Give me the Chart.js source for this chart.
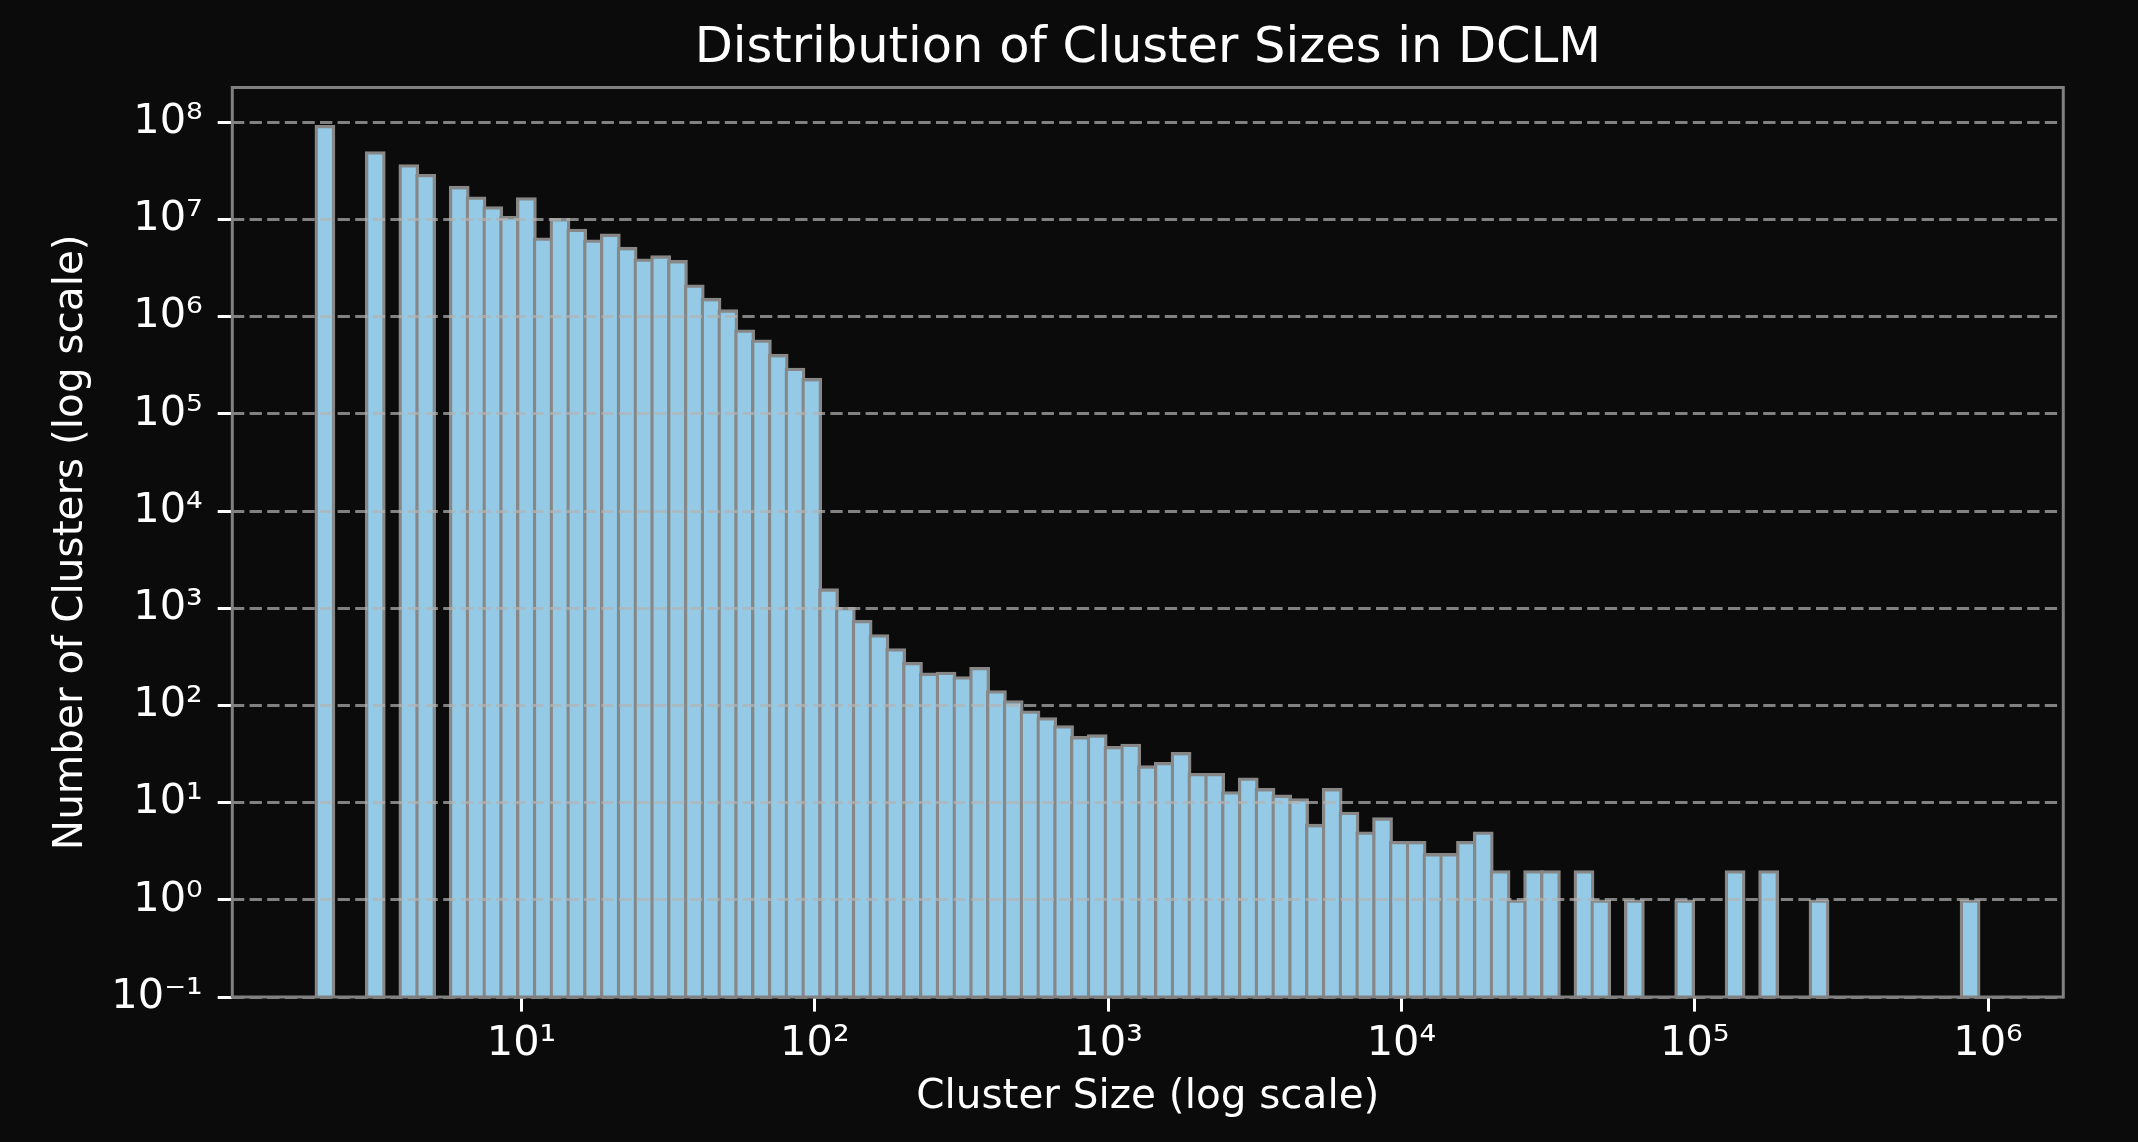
<!DOCTYPE html>
<html>
<head>
<meta charset="utf-8">
<script src="https://cdn.jsdelivr.net/npm/chart.js@4.4.1/dist/chart.umd.min.js"></script>
<style>
html,body{margin:0;padding:0;background:#0b0b0b;overflow:hidden}
#wrap{position:relative;width:2138px;height:1142px}
</style>
</head>
<body>
<div id="wrap"><canvas id="c"></canvas></div>
<script>
// ---- histogram definition (log-spaced bins) ----
const binLow = 2;
const binHigh = 928000;
const binCount = 99;

// ---- counts per bin (0 = empty bin) ----
const binCounts = [
  93000000, 0, 0, 50000000, 0, 36800000, 29200000, 0, 22000000, 17100000,
  13600000, 10800000, 16800000, 6480000, 10300000, 7960000, 6180000, 7100000, 5190000, 3940000,
  4240000, 3790000, 2130000, 1550000, 1180000, 733000, 578000, 411000, 296000, 233000,
  1589, 1022, 751, 535, 384, 278, 216, 221, 198, 247,
  142, 112, 88, 75, 62, 48, 50, 38, 40, 24,
  26, 33, 20, 20, 13, 18, 14, 12, 11, 6,
  14, 8, 5, 7, 4, 4, 3, 3, 4, 5,
  2, 1, 2, 2, 0, 2, 1, 0, 1, 0,
  0, 1, 0, 0, 2, 0, 2, 0, 0, 1,
  0, 0, 0, 0, 0, 0, 0, 0, 1
];

// ---- ticks ----
const xTickValues = [10, 100, 1000, 10000, 100000, 1000000];
const xTickLabels = ['10\u00B9', '10\u00B2', '10\u00B3', '10\u2074', '10\u2075', '10\u2076'];
const yTickValues = [0.1, 1, 10, 100, 1000, 10000, 100000, 1000000, 10000000, 100000000];
const yTickLabels = ['10\u207B\u00B9', '10\u2070', '10\u00B9', '10\u00B2', '10\u00B3', '10\u2074', '10\u2075', '10\u2076', '10\u2077', '10\u2078'];

// ---- axis limits ----
const xMin = 1.0325, xMax = 1806000;
const yMin = 0.1, yMax = 2.28e8;

// ---- texts ----
const chartTitle = 'Distribution of Cluster Sizes in DCLM';
const xAxisTitle = 'Cluster Size (log scale)';
const yAxisTitle = 'Number of Clusters (log scale)';

// ---- build points at geometric bin centres ----
const lo = Math.log10(binLow);
const step = (Math.log10(binHigh) - lo) / binCount;
const points = [];
binCounts.forEach((c, k) => {
  if (c > 0) points.push({ x: Math.pow(10, lo + (k + 0.5) * step), y: c });
});

const FONT = "'DejaVu Sans', sans-serif";
const TICK_FS = 41.5;
const LABEL_FS = 40.5;
const EDGE = 3.3;

const bgPlugin = {
  id: 'bg',
  beforeDraw(chart) {
    const ctx = chart.ctx;
    ctx.save();
    ctx.fillStyle = '#0b0b0b';
    ctx.fillRect(0, 0, chart.width, chart.height);
    ctx.restore();
  }
};
const titleOverAxes = {
  id: 'titleOverAxes',
  afterLayout(chart) {
    const t = chart.titleBlock;
    if (t) {
      t.left = chart.chartArea.left;
      t.right = chart.chartArea.right;
      t.width = t.right - t.left;
    }
  }
};
const spines = {
  id: 'spines',
  afterDraw(chart) {
    const a = chart.chartArea, ctx = chart.ctx;
    ctx.save();
    ctx.strokeStyle = '#808080';
    ctx.lineWidth = 3;
    ctx.strokeRect(a.left, a.top, a.right - a.left, a.bottom - a.top);
    ctx.restore();
  }
};

// bar width = one bin on the x scale, plus the edge line (edges are centred on bin boundaries)
function binThickness(ctx) {
  const s = ctx.chart.scales && ctx.chart.scales.x;
  if (!s || !isFinite(s.getPixelForValue(binLow))) return undefined;
  const w = Math.abs(s.getPixelForValue(Math.pow(10, lo + step)) - s.getPixelForValue(binLow));
  return w > 0 ? w + EDGE : undefined;
}

new Chart(document.getElementById('c'), {
  type: 'bar',
  data: {
    datasets: [{
      data: points,
      backgroundColor: '#94cae6',
      borderColor: '#878787',
      borderWidth: { top: EDGE, left: EDGE, right: EDGE, bottom: 0 },
      borderSkipped: false,
      barPercentage: 1,
      categoryPercentage: 1,
      barThickness: binThickness
    }]
  },
  options: {
    responsive: true,
    maintainAspectRatio: false,
    animation: false,
    layout: { padding: { left: 0, right: 74.7, top: 0, bottom: 0 } },
    plugins: {
      legend: { display: false },
      tooltip: { enabled: false },
      title: {
        display: true,
        text: chartTitle,
        color: '#ffffff',
        font: { family: FONT, size: 49.5, weight: 'normal' },
        padding: { top: 19, bottom: 9.1 }
      }
    },
    scales: {
      x: {
        type: 'logarithmic',
        min: xMin,
        max: xMax,
        offset: false,
        bounds: 'data',
        afterBuildTicks: (s) => { s.ticks = xTickValues.map(v => ({ value: v })); },
        afterFit: (s) => { s.height = 145; },
        grid: {
          display: true, drawOnChartArea: false, drawTicks: true, offset: false,
          tickLength: 14.6, tickColor: '#ffffff', tickWidth: 3
        },
        border: { display: false },
        ticks: {
          color: '#ffffff',
          font: { family: FONT, size: TICK_FS },
          padding: 7.3,
          autoSkip: false,
          maxRotation: 0,
          minRotation: 0,
          callback: (v, i) => xTickLabels[i]
        },
        title: {
          display: true,
          text: xAxisTitle,
          color: '#ffffff',
          font: { family: FONT, size: LABEL_FS },
          padding: { top: 0, bottom: 20.7 }
        }
      },
      y: {
        type: 'logarithmic',
        min: yMin,
        max: yMax,
        bounds: 'data',
        afterBuildTicks: (s) => { s.ticks = yTickValues.map(v => ({ value: v })); },
        afterFit: (s) => { s.width = 232.3; },
        grid: {
          display: true, drawOnChartArea: true, drawTicks: true,
          color: 'rgba(180,180,180,0.7)', lineWidth: 3, z: 1,
          tickLength: 14.6, tickColor: '#ffffff', tickWidth: 3
        },
        border: { display: false, dash: [12.3, 5.3] },
        ticks: {
          color: '#ffffff',
          font: { family: FONT, size: TICK_FS },
          padding: 15,
          autoSkip: false,
          callback: (v, i) => yTickLabels[i]
        },
        title: {
          display: true,
          text: yAxisTitle,
          color: '#ffffff',
          font: { family: FONT, size: LABEL_FS },
          padding: { top: 47, bottom: 0 }
        }
      }
    }
  },
  plugins: [bgPlugin, titleOverAxes, spines]
});
</script>
</body>
</html>
